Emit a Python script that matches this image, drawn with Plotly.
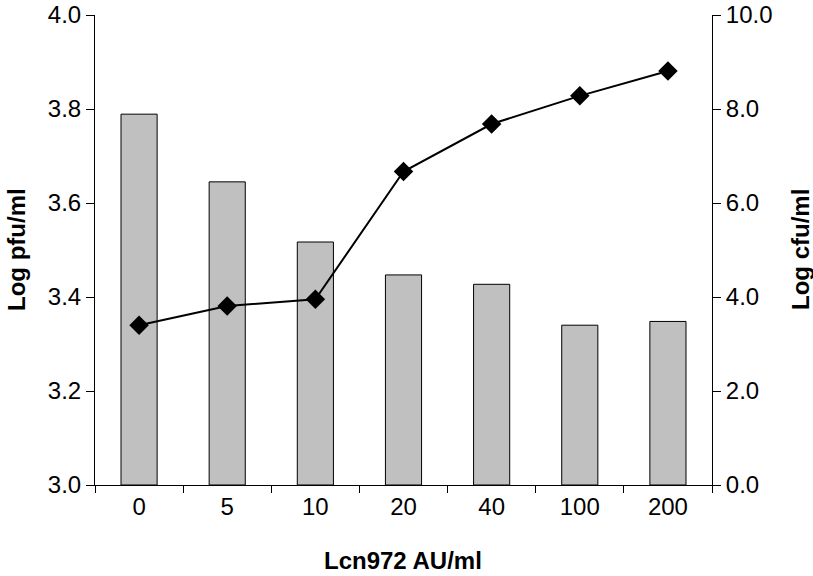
import plotly.graph_objects as go

categories = ["0", "5", "10", "20", "40", "100", "200"]
pfu_values = [3.789, 3.645, 3.517, 3.447, 3.427, 3.340, 3.348]
cfu_values = [3.40, 3.81, 3.95, 6.67, 7.68, 8.28, 8.81]
left_ticks = [3.0, 3.2, 3.4, 3.6, 3.8, 4.0]
right_ticks = [0, 2, 4, 6, 8, 10]
pfu_base = 3.0

font_family = "Liberation Sans, Arial, sans-serif"

fig = go.Figure()
fig.add_trace(go.Bar(
    x=categories, y=[v - pfu_base for v in pfu_values], base=pfu_base,
    marker=dict(color="#C0C0C0", line=dict(color="black", width=1)),
    width=0.41, showlegend=False,
))
fig.add_trace(go.Scatter(
    x=categories, y=cfu_values, yaxis="y2", mode="lines+markers",
    line=dict(color="black", width=2),
    marker=dict(symbol="diamond", size=15, color="black"),
    showlegend=False,
))

W, H = 813, 576
L, R, T, B = 95, 101, 15, 91
pw, ph = W - L - R, H - T - B

def px_x(x):
    return (x - L) / pw

def px_y(y):
    return 1 - (y - T) / ph

FS = 24

fig.update_layout(
    width=W, height=H,
    margin=dict(l=L, r=R, t=T, b=B),
    plot_bgcolor="white", paper_bgcolor="white",
    font=dict(family=font_family, size=FS, color="black"),
    xaxis=dict(
        type="category", showline=True, linecolor="black", linewidth=1,
        ticks="outside", tickson="boundaries", ticklen=7, tickcolor="black",
        showgrid=False, zeroline=False, automargin=False,
        tickfont=dict(size=FS),
    ),
    yaxis=dict(
        range=[3.0, 4.0], tickvals=left_ticks, tickformat=".1f",
        showline=True, linecolor="black", linewidth=1,
        ticks="outside", ticklen=8, tickcolor="black",
        showgrid=False, zeroline=False, automargin=False,
        tickfont=dict(size=FS),
    ),
    yaxis2=dict(
        range=[0, 10], tickvals=right_ticks, tickformat=".1f",
        overlaying="y", side="right",
        showline=True, linecolor="black", linewidth=1,
        ticks="outside", ticklen=8, tickcolor="black",
        showgrid=False, zeroline=False, automargin=False,
        tickfont=dict(size=FS),
    ),
    annotations=[
        dict(text="<b>Lcn972 AU/ml</b>", xref="paper", yref="paper",
             x=px_x(403), y=px_y(560),
             showarrow=False, font=dict(size=FS), xanchor="center", yanchor="middle"),
        dict(text="<b>Log pfu/ml</b>", xref="paper", yref="paper",
             x=px_x(16), y=px_y(250), textangle=-90,
             showarrow=False, font=dict(size=FS), xanchor="center", yanchor="middle"),
        dict(text="<b>Log cfu/ml</b>", xref="paper", yref="paper",
             x=px_x(800), y=px_y(250), textangle=-90,
             showarrow=False, font=dict(size=FS), xanchor="center", yanchor="middle"),
    ],
)

fig.write_html("out.html", config={"displayModeBar": False},
               post_script="document.body.style.margin='0';")
